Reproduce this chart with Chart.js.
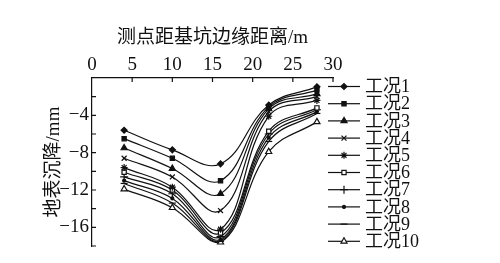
<!DOCTYPE html>
<html>
<head>
<meta charset="utf-8">
<script src="https://cdn.jsdelivr.net/npm/chart.js@4"></script>
<style>
  html, body { margin: 0; padding: 0; background: #fff; }
  #wrap { width: 500px; height: 263px; }
</style>
</head>
<body>
<div id="wrap"><canvas id="chart"></canvas></div>
<script>
// distance of measuring point from pit edge (m)
const distances = [4, 10, 16, 22, 28];
// ground settlement (mm) per working condition
const case1 = [-5.6, -7.7, -9.2, -2.9, -0.95];
const case2 = [-6.5, -8.6, -11.0, -3.1, -1.3];
const case3 = [-7.5, -9.7, -12.4, -3.3, -1.7];
const case4 = [-8.6, -10.6, -14.2, -3.6, -2.0];
const case5 = [-9.6, -11.7, -16.2, -4.1, -2.4];
const case6 = [-10.1, -12.0, -16.6, -5.7, -3.2];
const case7 = [-10.6, -12.4, -17.0, -6.0, -3.4];
const case8 = [-11.0, -12.9, -17.3, -6.4, -3.6];
const case9 = [-11.3, -13.4, -17.5, -6.8, -3.8];
const case10 = [-11.9, -13.9, -17.6, -7.9, -4.7];

const caseNames = ['工况1', '工况2', '工况3', '工况4', '工况5', '工况6', '工况7', '工况8', '工况9', '工况10'];
const caseValues = [case1, case2, case3, case4, case5, case6, case7, case8, case9, case10];
const xTicks = [0, 5, 10, 15, 20, 25, 30];
const yTickLabels = [-4, -8, -12, -16];

const FONT = '"Liberation Serif", "Noto Sans CJK SC", serif';

// marker per case: [pointStyle, radius, filled]
const markers = [
    ['rectRot', 3, true],
    ['rect', 3, true],
    ['triangle', 3.5, true],
    ['crossRot', 3.5, false],
    ['star', 3.5, false],
    ['rect', 3, false],
    ['cross', 4, false],
    ['circle', 1.5, true],
    ['line', 3.5, false],
    ['triangle', 3.5, false]
];

const datasets = caseValues.map((vals, i) => ({
    label: caseNames[i],
    data: distances.map((d, j) => ({ x: d, y: vals[j] })),
    borderColor: '#111',
    borderWidth: 1.2,
    tension: 0.4,
    pointStyle: markers[i][0],
    pointRadius: markers[i][1],
    pointBorderColor: '#111',
    pointBorderWidth: 1.2,
    pointBackgroundColor: markers[i][2] ? '#111' : '#fff'
}));

// draw inward tick marks on top and left axes
const inwardTicks = {
    id: 'inwardTicks',
    afterDraw(chart) {
        const { ctx, chartArea, scales } = chart;
        ctx.save();
        ctx.strokeStyle = '#111';
        ctx.lineWidth = 1.2;
        ctx.beginPath();
        xTicks.forEach(v => {
            if (v === 0) return;
            const px = scales.x.getPixelForValue(v);
            ctx.moveTo(px, chartArea.top);
            ctx.lineTo(px, chartArea.top + 4);
        });
        for (let v = -18; v < 0; v += 2) {
            const py = scales.y.getPixelForValue(v);
            ctx.moveTo(chartArea.left, py);
            ctx.lineTo(chartArea.left + 4, py);
        }
        ctx.stroke();
        ctx.restore();
    }
};

// legend on the right: line with marker, then label
const sideLegend = {
    id: 'sideLegend',
    afterDraw(chart) {
        const { ctx } = chart;
        const x0 = 328, x1 = 360, top = 86.5, step = 17.2;
        ctx.save();
        ctx.font = '18px ' + FONT;
        ctx.textBaseline = 'middle';
        ctx.fillStyle = '#111';
        chart.data.datasets.forEach((ds, i) => {
            const y = top + i * step;
            ctx.strokeStyle = '#111';
            ctx.lineWidth = 1.2;
            ctx.beginPath();
            ctx.moveTo(x0, y);
            ctx.lineTo(x1, y);
            ctx.stroke();
            ctx.fillStyle = ds.pointBackgroundColor;
            Chart.helpers.drawPoint(ctx, {
                pointStyle: ds.pointStyle,
                radius: ds.pointRadius,
                borderWidth: ds.pointBorderWidth,
                rotation: 0
            }, (x0 + x1) / 2, y);
            ctx.fillStyle = '#111';
            ctx.fillText(ds.label, 365, y + 1);
        });
        ctx.restore();
    }
};

new Chart(document.getElementById('chart'), {
    type: 'line',
    data: { datasets },
    options: {
        responsive: true,
        maintainAspectRatio: false,
        animation: false,
        layout: { padding: { left: 30, right: 167, top: 0, bottom: 17 } },
        plugins: {
            legend: { display: false },
            tooltip: { enabled: false }
        },
        scales: {
            x: {
                type: 'linear',
                position: 'top',
                min: 0,
                max: 30,
                afterBuildTicks: axis => { axis.ticks = xTicks.map(v => ({ value: v })); },
                afterFit: axis => { axis.height = 78; },
                grid: { display: false, drawTicks: false },
                border: { display: true, color: '#111', width: 1.2 },
                ticks: {
                    color: '#111',
                    font: { family: FONT, size: 19 },
                    padding: 2,
                    maxRotation: 0
                },
                title: {
                    display: true,
                    text: '测点距基坑边缘距离/m',
                    color: '#111',
                    font: { family: FONT, size: 19 },
                    padding: { top: 27, bottom: 2 }
                }
            },
            y: {
                min: -18,
                max: 0,
                afterBuildTicks: axis => { axis.ticks = yTickLabels.map(v => ({ value: v })); },
                afterFit: axis => { axis.width = 62; },
                grid: { display: false, drawTicks: false },
                border: { display: true, color: '#111', width: 1.2 },
                ticks: {
                    color: '#111',
                    font: { family: FONT, size: 19 },
                    padding: 3,
                    callback: v => String(v).replace('-', '\u2212')
                },
                title: {
                    display: true,
                    text: '地表沉降/mm',
                    color: '#111',
                    font: { family: FONT, size: 19 },
                    padding: { top: 13, bottom: 0 }
                }
            }
        }
    },
    plugins: [inwardTicks, sideLegend]
});
</script>
</body>
</html>
